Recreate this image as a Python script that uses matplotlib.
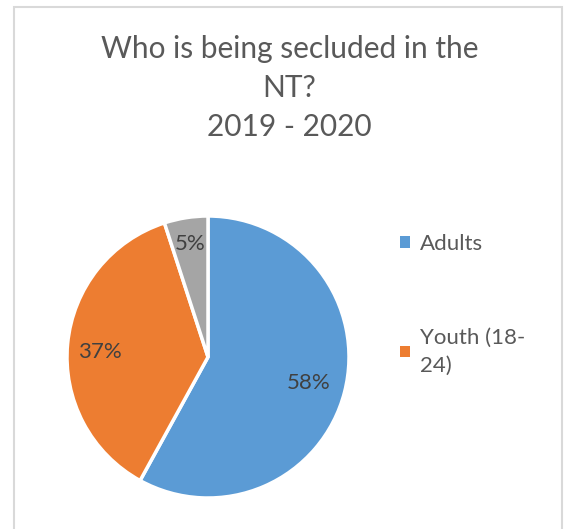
import numpy as np
import matplotlib
matplotlib.use("Agg")
import matplotlib.pyplot as plt
from matplotlib.patches import Rectangle

plt.rcParams['font.family'] = ['Lato', 'DejaVu Sans']

categories = ['Adults', 'Youth (18-\n24)', 'Other']
shares = [58, 37, 5]
colors = ['#5B9BD5', '#ED7D31', '#A5A5A5']
title = 'Who is being secluded in the\nNT?\n2019 - 2020'

W, H = 565, 529
fig = plt.figure(figsize=(W / 100, H / 100), dpi=100)

# chart border
fig.add_artist(Rectangle((14 / W, -0.05), 548 / W, 1.05 - 7 / H,
                         transform=fig.transFigure, fill=False,
                         edgecolor='#D9D9D9', linewidth=1.5))

cx, cy, r = 208, 357, 141
ax = fig.add_axes([(cx - r) / W, (H - cy - r) / H, 2 * r / W, 2 * r / H])
wedges, texts, autotexts = ax.pie(
    shares, colors=colors, startangle=90, counterclock=False,
    autopct='%1.0f%%', pctdistance=0.75,
    wedgeprops=dict(edgecolor='white', linewidth=2.5),
    textprops=dict(color='#404040', fontsize=16))
ax.set_xlim(-1, 1)
ax.set_ylim(-1, 1)
ax.set_aspect('equal')

# nudge percentage labels like the original
dists = [0.74, 0.77, 0.81]
for w, t, d in zip(wedges, autotexts, dists):
    ang = np.deg2rad((w.theta1 + w.theta2) / 2)
    t.set_position((d * np.cos(ang), d * np.sin(ang)))
autotexts[1].set_y(autotexts[1].get_position()[1] - 0.04)

fig.text(0.5 + 7 / W, 1 - 88 / H, title, ha='center', va='center',
         fontsize=21.5, color='#595959', linespacing=1.48)

leg = fig.legend(wedges[:2], categories[:2], loc='upper left',
                 bbox_to_anchor=(389 / W, 1 - 223 / H), frameon=False,
                 fontsize=16, labelspacing=3.3, handlelength=0.45,
                 handleheight=0.45, handletextpad=0.45, borderpad=0)
for t in leg.get_texts():
    t.set_color('#595959')
    t.set_linespacing(1.5)
for h in leg.legend_handles:
    h.set_edgecolor('none')

fig.savefig('out.png', dpi=100, facecolor='white')
